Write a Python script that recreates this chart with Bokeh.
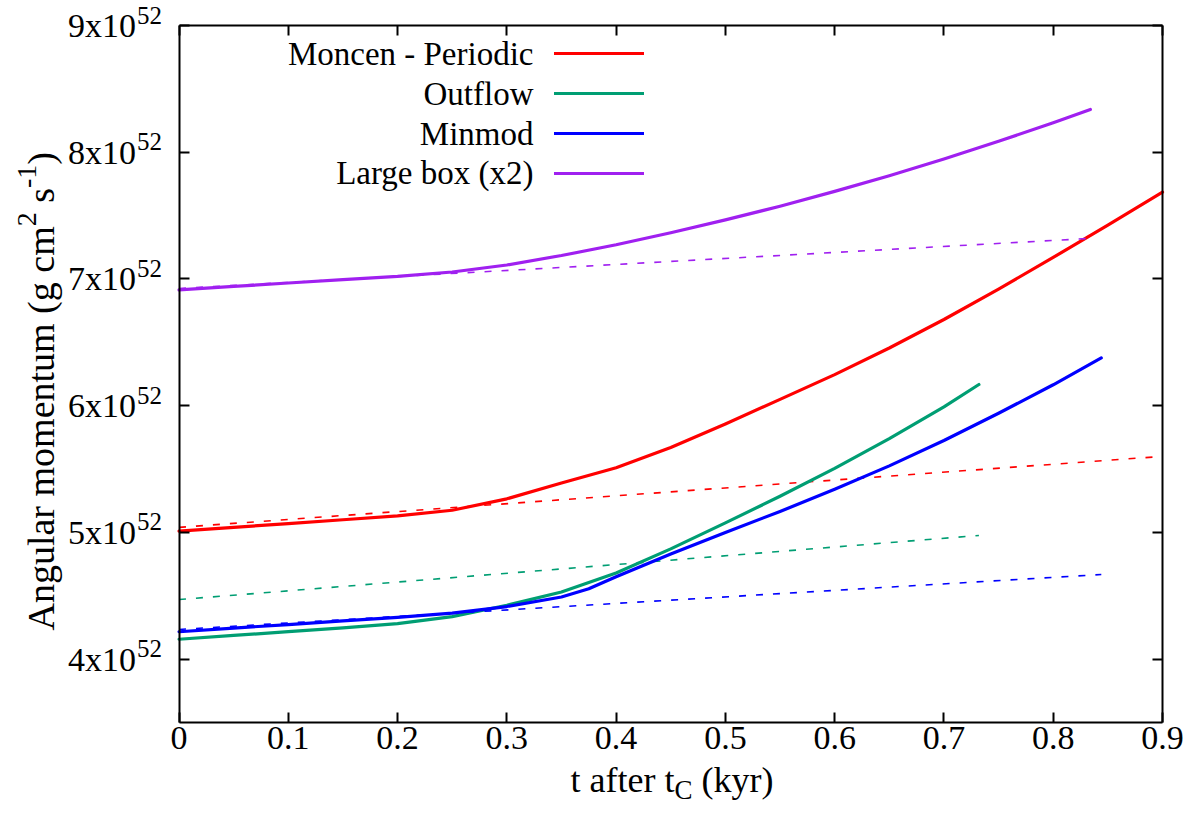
import math
from bokeh.plotting import figure
from bokeh.models import (Range1d, FixedTicker, LinearAxis, Legend, LegendItem,
                          Label, LabelSet, ColumnDataSource, CustomJSTickFormatter)
from bokeh.core.properties import value
from bokeh.embed import file_html
from bokeh.resources import INLINE

# ---------------- data ----------------
series_names = ["Moncen - Periodic", "Outflow", "Minmod", "Large box (x2)"]
series_colors = ["#ff0000", "#009e73", "#0000ff", "#a020f0"]

t_moncen = [0, 0.05, 0.1, 0.15, 0.2, 0.25, 0.3, 0.35, 0.4, 0.45, 0.5, 0.55, 0.6, 0.65, 0.7, 0.75, 0.8, 0.85, 0.9]
L_moncen = [5.01, 5.04, 5.07, 5.10, 5.13, 5.175, 5.265, 5.39, 5.51, 5.67, 5.855, 6.05, 6.245, 6.455, 6.68, 6.92, 7.17, 7.425, 7.685]

t_outflow = [0, 0.05, 0.1, 0.15, 0.2, 0.25, 0.3, 0.35, 0.4, 0.45, 0.5, 0.55, 0.6, 0.65, 0.7, 0.732]
L_outflow = [4.157, 4.187, 4.217, 4.247, 4.28, 4.335, 4.425, 4.53, 4.68, 4.87, 5.075, 5.285, 5.505, 5.74, 5.99, 6.167]

t_minmod = [0, 0.05, 0.1, 0.15, 0.2, 0.25, 0.3, 0.35, 0.375, 0.4, 0.45, 0.5, 0.55, 0.6, 0.65, 0.7, 0.75, 0.8, 0.844]
L_minmod = [4.216, 4.245, 4.273, 4.302, 4.33, 4.363, 4.415, 4.49, 4.555, 4.65, 4.83, 5.0, 5.165, 5.34, 5.525, 5.725, 5.94, 6.165, 6.377]

t_large = [0, 0.05, 0.1, 0.15, 0.2, 0.25, 0.3, 0.35, 0.4, 0.45, 0.5, 0.55, 0.6, 0.65, 0.7, 0.75, 0.8, 0.834]
L_large = [6.914, 6.941, 6.968, 6.995, 7.02, 7.055, 7.11, 7.185, 7.27, 7.365, 7.466, 7.574, 7.691, 7.815, 7.946, 8.086, 8.233, 8.337]

# dashed linear fits: value at t=0, end time, value at end time
fit_t_end = [0.9, 0.732, 0.844, 0.834]
fit_start = [5.04, 4.47, 4.234, 6.925]
fit_end = [5.60, 4.976, 4.668, 7.32]

x_ticks = [0, 0.1, 0.2, 0.3, 0.4, 0.5, 0.6, 0.7, 0.8, 0.9]
x_tick_labels = ["0", "0.1", "0.2", "0.3", "0.4", "0.5", "0.6", "0.7", "0.8", "0.9"]
y_ticks = [4, 5, 6, 7, 8, 9]
y_tick_labels = ["4x10", "5x10", "6x10", "7x10", "8x10", "9x10"]
y_tick_exponent = "52"

X_MIN, X_MAX = 0.0, 0.9
Y_MIN, Y_MAX = 3.5, 9.0

FONT = "Liberation Serif"

# Times / Liberation Serif advance widths (per em) for label layout
W = {' ': .25, 'A': .722, 'n': .5, 'g': .5, 'u': .5, 'l': .278, 'a': .444, 'r': .333,
     'm': .778, 'o': .5, 'e': .444, 't': .278, '(': .333, ')': .333, 'c': .444,
     's': .389, '2': .5, '-': .333, '1': .5, 'f': .333, 'k': .5, 'y': .5, 'C': .667}


def tw(s, size):
    return sum(W.get(ch, 0.5) for ch in s) * size


# ---------------- layout: canvas and plot box (pixels) ----------------
CW, CH = 1184, 806
BOX_L, BOX_R, BOX_T, BOX_B = 178.5, 1162.0, 25.0, 722.0
kx = (BOX_R - BOX_L) / (X_MAX - X_MIN)
ky = (BOX_B - BOX_T) / (Y_MAX - Y_MIN)
xr = Range1d(X_MIN - BOX_L / kx, X_MAX + (CW - BOX_R) / kx)
yr = Range1d(Y_MIN - (CH - BOX_B) / ky, Y_MAX + BOX_T / ky)

p = figure(width=CW, height=CH, output_backend="svg", toolbar_location=None,
           x_range=xr, y_range=yr, x_axis_location=None, y_axis_location=None,
           min_border=0, min_border_left=0, min_border_right=0,
           min_border_top=0, min_border_bottom=0)
p.grid.visible = False
p.background_fill_color = "white"
p.border_fill_color = "white"
p.outline_line_color = None


def make_axis(ticks, loc, bounds):
    ax = LinearAxis(fixed_location=loc, bounds=bounds, ticker=FixedTicker(ticks=ticks))
    ax.major_tick_in = 10
    ax.major_tick_out = 0
    ax.minor_tick_in = 0
    ax.minor_tick_out = 0
    ax.axis_line_width = 2
    ax.axis_line_color = "black"
    ax.major_tick_line_width = 2
    ax.major_tick_line_color = "black"
    ax.major_label_text_font = FONT
    ax.major_label_text_font_size = "34px"
    ax.major_label_text_color = "black"
    return ax


xa = make_axis(x_ticks, Y_MIN, (X_MIN, X_MAX))
xa.major_label_overrides = {t: s for t, s in zip(x_ticks, x_tick_labels)}
xa.major_label_standoff = 4
p.add_layout(xa, "below")

ya = make_axis(y_ticks, X_MIN, (Y_MIN, Y_MAX))
ya.major_label_overrides = {t: s for t, s in zip(y_ticks, y_tick_labels)}
ya.major_label_standoff = 43
p.add_layout(ya, "left")

top_ax = make_axis(x_ticks, Y_MAX, (X_MIN, X_MAX))
top_ax.formatter = CustomJSTickFormatter(code="return ''")
top_ax.major_label_standoff = 0
p.add_layout(top_ax, "above")

right_ax = make_axis(y_ticks, X_MAX, (Y_MIN, Y_MAX))
right_ax.formatter = CustomJSTickFormatter(code="return ''")
right_ax.major_label_standoff = 0
p.add_layout(right_ax, "right")

# ---------------- curves ----------------
all_t = [t_moncen, t_outflow, t_minmod, t_large]
all_L = [L_moncen, L_outflow, L_minmod, L_large]

solid = []
for i in range(4):
    r = p.line(all_t[i], all_L[i], line_color=series_colors[i], line_width=3.2,
               line_join="round", line_cap="round")
    solid.append(r)
    p.line([0, fit_t_end[i]], [fit_start[i], fit_end[i]], line_color=series_colors[i],
           line_width=1.6, line_dash="7 10")

# ---------------- y tick exponents ----------------
sup_src = ColumnDataSource(dict(x=[X_MIN] * len(y_ticks), y=y_ticks,
                                txt=[y_tick_exponent] * len(y_ticks)))
p.add_layout(LabelSet(x="x", y="y", text="txt", source=sup_src, x_offset=-17, y_offset=2,
                      text_align="right", text_baseline="alphabetic",
                      text_font=value(FONT), text_font_size="25px", text_color="black"))

# ---------------- legend (gnuplot style: text, then sample) ----------------
leg_rows = [53.3, 93.3, 133.3, 172.7]          # row centres, px from canvas top
leg_src = ColumnDataSource(dict(x=[X_MIN] * 4, y=[Y_MAX] * 4, name=series_names,
                                yoff=[BOX_T - r for r in leg_rows]))
p.add_layout(LabelSet(x="x", y="y", text="name", source=leg_src, x_offset=354.5, y_offset="yoff",
                      text_align="right", text_baseline="middle",
                      text_font=value(FONT), text_font_size="33px", text_color="black"))
legend = Legend(items=[LegendItem(label="", renderers=[r]) for r in solid],
                location=(554, CH - (leg_rows[0] - 20 + 160)), glyph_width=90, glyph_height=40,
                label_height=40, label_width=0, spacing=0, padding=0, margin=0, label_standoff=0,
                border_line_alpha=0, background_fill_alpha=0, label_text_font_size="1px")
p.add_layout(legend)


# ---------------- axis titles (with sub/superscripts) ----------------
def add_label(text, xo, yo, size, angle=0.0):
    p.add_layout(Label(x=X_MIN, y=Y_MIN, x_offset=xo, y_offset=yo, text=text, angle=angle,
                       text_align="left", text_baseline="alphabetic",
                       text_font=FONT, text_font_size=f"{size}px", text_color="black"))


# x: "t after t_C (kyr)"
XF, XS = 36, 27
xo = 570 - BOX_L
add_label("t after t", xo, -57, XF)
xo += tw("t after t", XF)
add_label("C", xo, -67, XS)
xo += tw("C", XS) + tw(" ", XF)
add_label("(kyr)", xo, -57, XF)

# y: "Angular momentum (g cm^2 s^-1)"
YF, YS = 38, 28
base_x = 40 - BOX_L
rise = 14
yo = BOX_B - 630
ang = math.pi / 2
add_label("Angular momentum (g cm", base_x, yo, YF, ang)
yo += tw("Angular momentum (g cm", YF)
add_label("2", base_x - rise, yo, YS, ang)
yo += tw("2", YS) + tw(" ", YF)
add_label("s", base_x, yo, YF, ang)
yo += tw("s", YF)
add_label("-1", base_x - rise, yo, YS, ang)
yo += tw("-1", YS)
add_label(")", base_x, yo, YF, ang)

open("out.html", "w").write(file_html(p, INLINE))
